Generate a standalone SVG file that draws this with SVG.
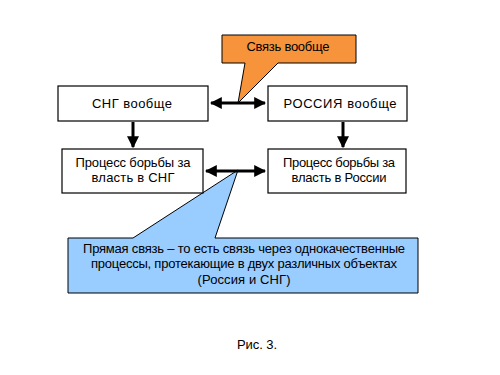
<svg xmlns="http://www.w3.org/2000/svg" width="500" height="375" viewBox="0 0 500 375">
<style>
text{font-family:"Liberation Sans",Arial,sans-serif;font-size:13px;fill:#000;text-anchor:middle}
.box{fill:#fff;stroke:#000;stroke-width:1.2}
.conn{stroke:#000;stroke-width:3;fill:none}
</style>
<defs>
<marker id="ah" viewBox="0 0 10 10" refX="9" refY="5" markerWidth="4" markerHeight="4" orient="auto-start-reverse" markerUnits="strokeWidth">
<path d="M0,0 L10,5 L0,10 Z" fill="#000"/>
</marker>
</defs>
<rect width="500" height="375" fill="#fff"/>
<g id="callout-top">
<path d="M222,35 H356 V63 H278 L238,103 L245,63 H222 Z" fill="#F7943B" stroke="#000" stroke-width="1"/>
<text x="288" y="51" textLength="83">Связь вообще</text>
</g>
<g id="callout-bottom">
<path d="M68,238 H133 L238,170 L215,238 H418 V293 H68 Z" fill="#99CCFF" stroke="#000" stroke-width="1"/>
<text x="244" y="253" textLength="322">Прямая связь – то есть связь через однокачественные</text>
<text x="244" y="268" textLength="306">процессы, протекающие в двух различных объектах</text>
<text x="244" y="284" textLength="93">(Россия и СНГ)</text>
</g>
<g id="sng">
<rect class="box" x="58" y="86" width="150" height="35"/>
<text x="132" y="108" textLength="80">СНГ вообще</text>
</g>
<g id="russia">
<rect class="box" x="268" y="86" width="139" height="35"/>
<text x="340" y="108" textLength="113">РОССИЯ вообще</text>
</g>
<g id="sng-process">
<rect class="box" x="62" y="149" width="141" height="44"/>
<text x="133" y="167" textLength="115">Процесс борьбы за</text>
<text x="133" y="182" textLength="83">власть в СНГ</text>
</g>
<g id="russia-process">
<rect class="box" x="268" y="149" width="138" height="44"/>
<text x="339" y="167" textLength="112">Процесс борьбы за</text>
<text x="339" y="182" textLength="95">власть в России</text>
</g>
<g id="connectors">
<line class="conn" x1="211" y1="103" x2="265" y2="103" marker-start="url(#ah)" marker-end="url(#ah)"/>
<line class="conn" x1="206" y1="171" x2="265" y2="171" marker-start="url(#ah)" marker-end="url(#ah)"/>
<line class="conn" x1="133" y1="122" x2="133" y2="147" marker-end="url(#ah)"/>
<line class="conn" x1="343" y1="122" x2="343" y2="147" marker-end="url(#ah)"/>
</g>
<text x="257" y="349" textLength="40">Рис. 3.</text>
</svg>
